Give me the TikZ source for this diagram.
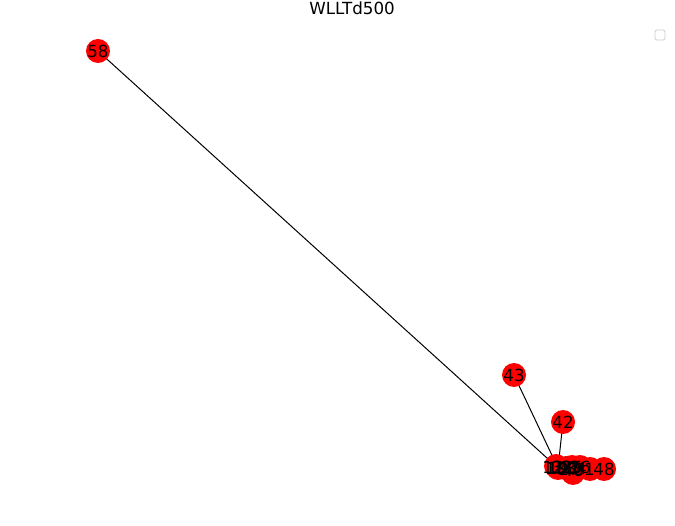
\documentclass[tikz,border=0pt]{standalone}
\usepackage{fontspec}
\setmainfont{DejaVu Sans}
\begin{document}
\begin{tikzpicture}[x=1pt,y=-1pt,
  vnode/.style={circle,fill=red,draw=none,minimum size=24pt,inner sep=0pt},
  vlabel/.style={inner sep=0pt,font=\fontsize{16.7}{18}\selectfont,text=black},
  edge/.style={draw=black,line width=1pt}]
\useasboundingbox (0,0) rectangle (675,526);
\node[font=\fontsize{16.7}{18}\selectfont] (title) at (352,8) {WLLTd500};
\draw[draw=black!20,rounded corners=1.5pt,line width=0.8pt] (655,30) rectangle (665,40);
\coordinate (hubc) at (558,468);
\draw[edge] (98,51) coordinate (c58) -- (hubc);
\draw[edge] (514,375) coordinate (c43) -- (hubc);
\draw[edge] (563,422) coordinate (c42) -- (hubc);
% node discs
\node[vnode] (n58) at (c58) {};
\node[vnode] (n43) at (c43) {};
\node[vnode] (n42) at (c42) {};
\node[vnode] (n48) at (604,469) {};
\node[vnode] (n21) at (590,469) {};
\node[vnode] (n40) at (573,473) {};
\node[vnode] (n36) at (580,467) {};
\node[vnode] (n25) at (572,467) {};
\node[vnode] (n30) at (566,468) {};
\node[vnode] (hub) at (hubc) {};
\node[vnode] (n12) at (556,466) {};
% labels drawn over all discs
\node[vlabel] at (n58) {58};
\node[vlabel] at (n43) {43};
\node[vlabel] at (n42) {42};
\node[vlabel] at (553,467) {12};
\node[vlabel] at (556,468) {10};
\node[vlabel] at (hub) {19};
\node[vlabel] at (562,467) {33};
\node[vlabel] at (n30) {30};
\node[vlabel] at (569,469) {27};
\node[vlabel] at (n25) {25};
\node[vlabel] at (573,470) {40};
\node[vlabel] at (576,468) {34};
\node[vlabel] at (n36) {36};
\node[vlabel] at (584,469) {21};
\node[vlabel] at (n48) {48};
\end{tikzpicture}
\end{document}
